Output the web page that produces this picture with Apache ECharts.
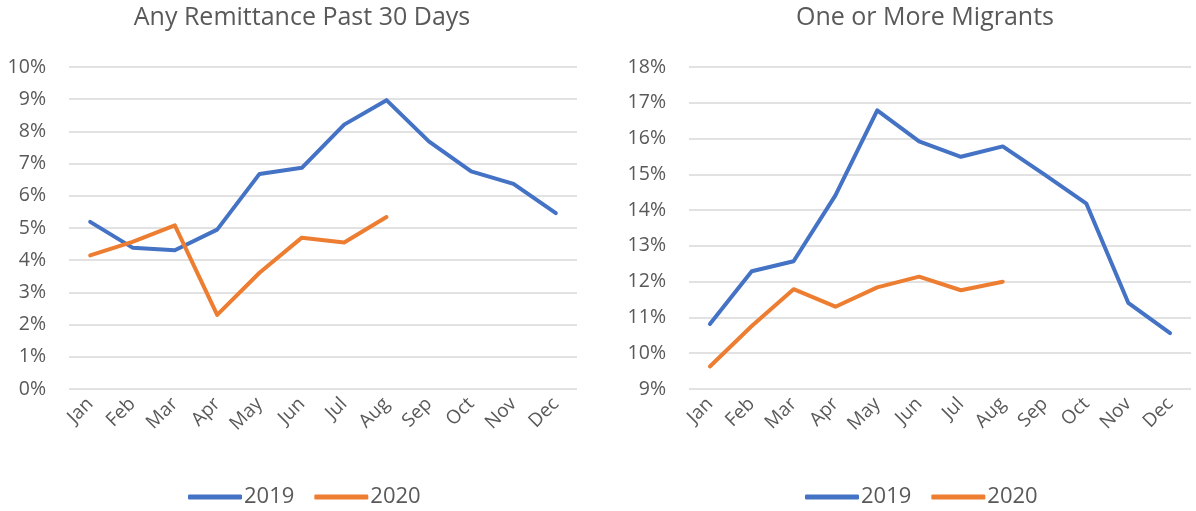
<!DOCTYPE html>
<html>
<head>
<meta charset="utf-8">
<script src="https://cdn.jsdelivr.net/npm/echarts@6/dist/echarts.min.js"></script>
<style>
	html, body { margin: 0; padding: 0; background: #ffffff; }
	#chart { width: 1196px; height: 511px; }
</style>
</head>
<body>
<div id="chart"></div>
<script>
// data
const months = ["Jan", "Feb", "Mar", "Apr", "May", "Jun", "Jul", "Aug", "Sep", "Oct", "Nov", "Dec"];
const titles = ["Any Remittance Past 30 Days", "One or More Migrants"];
const years = ["2019", "2020"];

const remit2019 = [5.19, 4.39, 4.31, 4.95, 6.68, 6.87, 8.21, 8.97, 7.69, 6.76, 6.37, 5.46];
const remit2020 = [4.15, 4.57, 5.08, 2.30, 3.61, 4.70, 4.55, 5.34];
const migr2019 = [10.82, 12.29, 12.57, 14.41, 16.79, 15.92, 15.49, 15.78, 14.99, 14.18, 11.41, 10.56];
const migr2020 = [9.63, 10.76, 11.79, 11.30, 11.84, 12.14, 11.76, 12.00];

const colors = ["#4472C4", "#ED7D31"];
const grey = "#595959";
const font = "'Open Sans', sans-serif";

function xAxisFor(idx) {
	return {
		type: "category",
		gridIndex: idx,
		data: months,
		boundaryGap: true,
		axisLine: { show: false },
		axisTick: { show: false },
		axisLabel: {
			rotate: 45,
			color: grey,
			fontSize: 19,
			fontFamily: font,
			margin: 12,
			interval: 0
		}
	};
}

function yAxisFor(idx, min, max) {
	return {
		type: "value",
		gridIndex: idx,
		min: min,
		max: max,
		interval: 1,
		axisLine: { show: false },
		axisTick: { show: false },
		axisLabel: {
			formatter: "{value}%",
			color: grey,
			fontSize: 19.5,
			fontFamily: font,
			margin: 23
		},
		splitLine: {
			lineStyle: { color: "#d9d9d9", width: 1.5 }
		}
	};
}

function lineSeries(name, idx, data, color) {
	return {
		name: name,
		type: "line",
		xAxisIndex: idx,
		yAxisIndex: idx,
		data: data,
		symbol: "none",
		lineStyle: { width: 4, color: color, cap: "round", join: "round" },
		itemStyle: { color: color }
	};
}

function legendAt(left) {
	return {
		data: years,
		left: left,
		top: 481,
		icon: "roundRect",
		itemWidth: 54,
		itemHeight: 5,
		itemGap: 20,
		textStyle: { color: grey, fontSize: 22, fontFamily: font, padding: [0, 0, 0, -3] }
	};
}

let option = {
	animation: false,
	color: colors,
	title: [
		{
			text: titles[0],
			left: 297,
			top: 0,
			textAlign: "center",
			textStyle: { color: grey, fontSize: 25, fontWeight: "normal", fontFamily: font }
		},
		{
			text: titles[1],
			left: 920,
			top: 0,
			textAlign: "center",
			textStyle: { color: grey, fontSize: 25, fontWeight: "normal", fontFamily: font }
		}
	],
	legend: [legendAt(183), legendAt(800)],
	grid: [
		{ left: 69, top: 67, width: 508, height: 322 },
		{ left: 689, top: 67, width: 502, height: 322 }
	],
	xAxis: [xAxisFor(0), xAxisFor(1)],
	yAxis: [yAxisFor(0, 0, 10), yAxisFor(1, 9, 18)],
	series: [
		lineSeries("2019", 0, remit2019, colors[0]),
		lineSeries("2020", 0, remit2020, colors[1]),
		lineSeries("2019", 1, migr2019, colors[0]),
		lineSeries("2020", 1, migr2020, colors[1])
	]
};

let chart = echarts.init(document.getElementById("chart"), null, { renderer: "canvas" });
chart.setOption(option, true);
</script>
</body>
</html>
